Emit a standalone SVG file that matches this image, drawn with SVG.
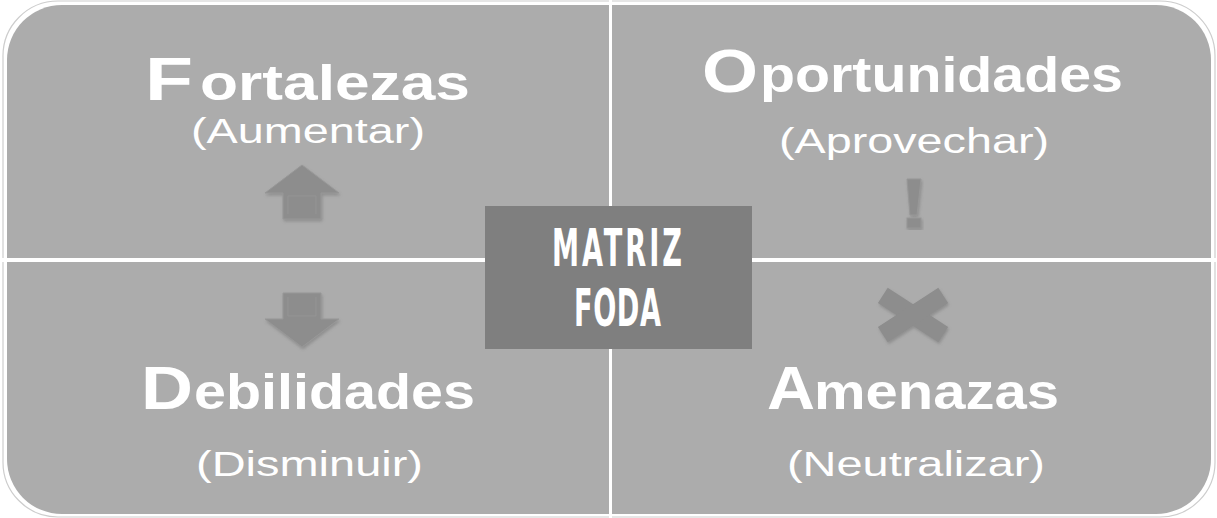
<svg xmlns="http://www.w3.org/2000/svg" width="1217" height="518" viewBox="0 0 1217 518">
<defs>
<style>
.quad{fill:#acacac;}
.edge{fill:none;stroke:#cdcdcd;stroke-width:1.2;}
.big{font-family:"Liberation Sans",Arial,sans-serif;font-weight:bold;font-size:62px;fill:#ffffff;}
.mid{font-family:"Liberation Sans",Arial,sans-serif;font-weight:bold;font-size:50px;fill:#ffffff;}
.sub{font-family:"Liberation Sans",Arial,sans-serif;font-size:35px;fill:#ffffff;}
.center{font-family:"DejaVu Sans Condensed","DejaVu Sans","Liberation Sans",sans-serif;font-weight:bold;font-size:52px;fill:#ffffff;}
.icon{fill:#8d8d8d;stroke:#979797;stroke-width:1;filter:url(#sh);}
.hl{fill:none;stroke:#949494;stroke-width:1;}
</style>
<filter id="sh" x="-20%" y="-20%" width="140%" height="140%">
<feDropShadow dx="1" dy="2" stdDeviation="1.5" flood-color="#6a6a6a" flood-opacity="0.45"/>
</filter>
</defs>
<rect width="1217" height="518" fill="#ffffff"/>
<g id="fortalezas">
<path class="edge" d="M3,258 L3,57 A55,55 0 0 1 58,1 L609,1"/>
<path class="quad" d="M7,258 L7,60 A55,55 0 0 1 62,5 L609,5 L609,258 Z"/>
<text class="big" x="145" y="100" textLength="48" lengthAdjust="spacingAndGlyphs">F</text>
<text class="mid" x="200" y="100" textLength="270" lengthAdjust="spacingAndGlyphs">ortalezas</text>
<text class="sub" x="191" y="143" textLength="234" lengthAdjust="spacingAndGlyphs">(Aumentar)</text>
<polygon class="icon" points="302,165 339,193 321,193 321,219 283,219 283,193 265,193"/>
<polyline class="hl" points="288,214 288,196 316,196 316,214"/>
</g>
<g id="oportunidades">
<path class="edge" d="M612,1 L1159,1 A55,55 0 0 1 1215,57 L1215,258"/>
<path class="quad" d="M612,5 L1156,5 A55,55 0 0 1 1211,60 L1211,258 L612,258 Z"/>
<text class="big" x="702" y="92" textLength="56" lengthAdjust="spacingAndGlyphs">O</text>
<text class="mid" x="760" y="92" textLength="363" lengthAdjust="spacingAndGlyphs">portunidades</text>
<text class="sub" x="779" y="153" textLength="270" lengthAdjust="spacingAndGlyphs">(Aprovechar)</text>
<polygon class="icon" points="907,179 921,179 917,215 910,215"/>
<rect class="icon" x="907" y="218" width="14" height="10"/>
</g>
<g id="debilidades">
<path class="edge" d="M3,262 L3,461 A55,55 0 0 0 58,517 L609,517"/>
<path class="quad" d="M7,262 L609,262 L609,514 L62,514 A55,55 0 0 1 7,459 Z"/>
<text class="big" x="141" y="409" textLength="52" lengthAdjust="spacingAndGlyphs">D</text>
<text class="mid" x="194" y="409" textLength="281" lengthAdjust="spacingAndGlyphs">ebilidades</text>
<text class="sub" x="196" y="476" textLength="227" lengthAdjust="spacingAndGlyphs">(Disminuir)</text>
<polygon class="icon" points="283,293 321,293 321,319 339,319 302,347 265,319 283,319"/>
<polyline class="hl" points="288,297 288,316 316,316 316,297"/>
</g>
<g id="amenazas">
<path class="edge" d="M612,517 L1159,517 A55,55 0 0 0 1215,461 L1215,262"/>
<path class="quad" d="M612,262 L1211,262 L1211,459 A55,55 0 0 1 1156,514 L612,514 Z"/>
<text class="big" x="767" y="409" textLength="48" lengthAdjust="spacingAndGlyphs">A</text>
<text class="mid" x="814" y="409" textLength="245" lengthAdjust="spacingAndGlyphs">menazas</text>
<text class="sub" x="787" y="476" textLength="258" lengthAdjust="spacingAndGlyphs">(Neutralizar)</text>
<g filter="url(#sh)">
<rect x="877" y="306" width="72" height="18" fill="#8d8d8d" transform="rotate(33 913 315)"/>
<rect x="877" y="306" width="72" height="18" fill="#8d8d8d" transform="rotate(-33 913 315)"/>
</g>
</g>
<g id="connectors"></g>
<g id="matriz">
<rect x="485" y="206" width="267" height="143" fill="#7f7f7f"/>
<text class="center" transform="translate(552,266) scale(0.58,1)" x="0" y="0" textLength="224" lengthAdjust="spacing">MATRIZ</text>
<text class="center" transform="translate(574,326) scale(0.58,1)" x="0" y="0" textLength="150" lengthAdjust="spacing">FODA</text>
</g>
</svg>
